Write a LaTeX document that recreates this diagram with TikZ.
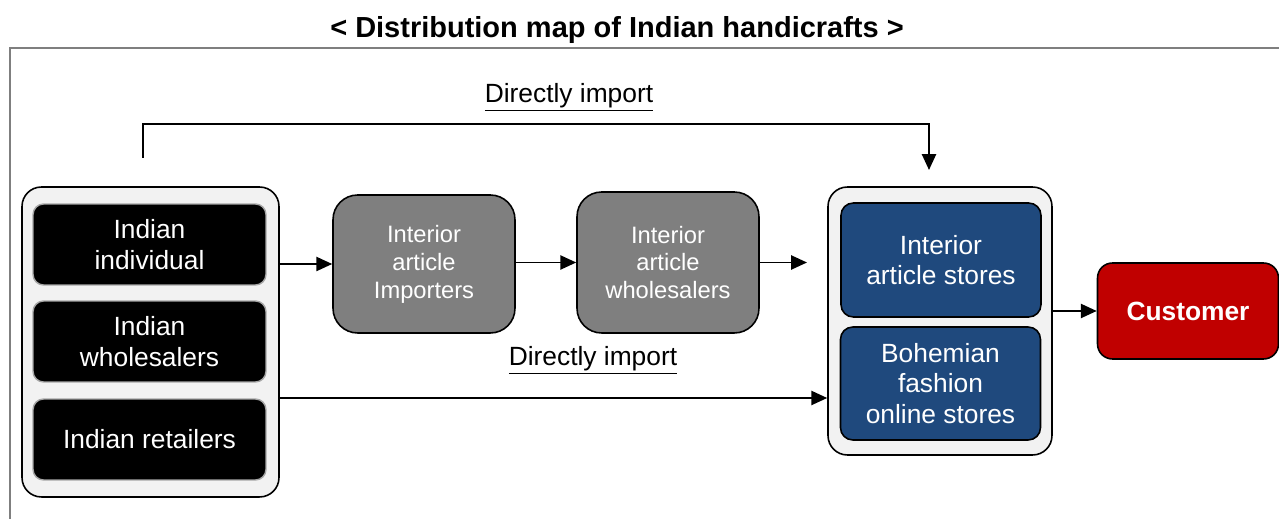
\documentclass[tikz,border=0pt]{standalone}
\usepackage{fontspec}
\setmainfont{Liberation Sans}
\usetikzlibrary{arrows.meta}
\definecolor{panel}{HTML}{F2F2F2}
\definecolor{stepgray}{HTML}{7F7F7F}
\definecolor{storeblue}{HTML}{1F497D}
\definecolor{custred}{HTML}{C00000}

\begin{document}
\begin{tikzpicture}[x=0.02cm, y=-0.02cm,
  flow/.style={-{Triangle[length=9pt, width=8pt]}, line width=1.1pt},
  container/.style={draw=black, fill=panel, line width=0.9pt, rounded corners=11pt},
  source/.style={draw=gray!70, fill=black, line width=0.8pt, rounded corners=6pt, text=white,
    align=center, font=\fontsize{15}{17.5}\selectfont, minimum width=4.66cm, minimum height=1.62cm},
  middle/.style={draw=black, fill=stepgray, line width=0.9pt, rounded corners=14pt, text=white,
    align=center, font=\fontsize{13.5}{15.9}\selectfont, minimum width=3.64cm},
  store/.style={draw=black, fill=storeblue, line width=0.9pt, rounded corners=7pt, text=white,
    align=center, font=\fontsize{15}{17.5}\selectfont, minimum width=4.0cm}]
\useasboundingbox (0,0) rectangle (1279,519);
\draw [stepgray, line width=1.2pt] (10,519) -- (10,48) -- (1279,48);
\node [font=\fontsize{16.5}{19}\selectfont\bfseries] (title) at (617,30) {< Distribution map of Indian handicrafts >};

\node [container, minimum width=5.14cm, minimum height=6.2cm] (leftbox) at (150.5,342) {};
\node [source] (indiv) at (149.5,244.5) {Indian\\individual};
\node [source] (wholes) at (149.5,341.5) {Indian\\wholesalers};
\node [source] (retail) at (149.5,439.5) {Indian retailers};

\node [middle, minimum height=2.76cm] (importers) at (424,264) {Interior\\article\\Importers};
\node [middle, minimum height=2.82cm] (iwholes) at (668,262.5) {Interior\\article\\wholesalers};

\node [container, minimum width=4.48cm, minimum height=5.36cm] (rightbox) at (940,321) {};
\node [store, minimum height=2.28cm] (stores) at (941,260) {Interior\\article stores};
\node [store, minimum height=2.26cm] (online) at (940.5,383.5) {Bohemian\\fashion\\online stores};

\node [draw=black, fill=custred, line width=0.9pt, rounded corners=8.5pt, text=white,
  font=\fontsize{15}{17.5}\selectfont\bfseries, minimum width=3.62cm, minimum height=1.92cm] (customer) at (1188,311) {Customer};

\node [font=\fontsize{15}{17.5}\selectfont] (topnote) at (569,97) {\underline{Directly import}};
\node [font=\fontsize{15}{17.5}\selectfont] (lownote) at (593,360) {\underline{Directly import}};

\coordinate (topa) at (143,158);
\coordinate (topb) at (929,170);
\coordinate (gap) at (807,262.5);
\coordinate (low) at (279,398);

\draw [flow] (topa) -- ++(0,-34) -| (topb);
\draw [flow] (leftbox.east |- importers.west) -- (importers.west);
\draw [flow] (importers.east |- iwholes.west) -- (iwholes.west);
\draw [flow] (iwholes.east) -- (gap);
\draw [flow] (leftbox.east |- low) -- (rightbox.west |- low);
\draw [flow] (rightbox.east |- customer.west) -- (customer.west);
\end{tikzpicture}
\end{document}
